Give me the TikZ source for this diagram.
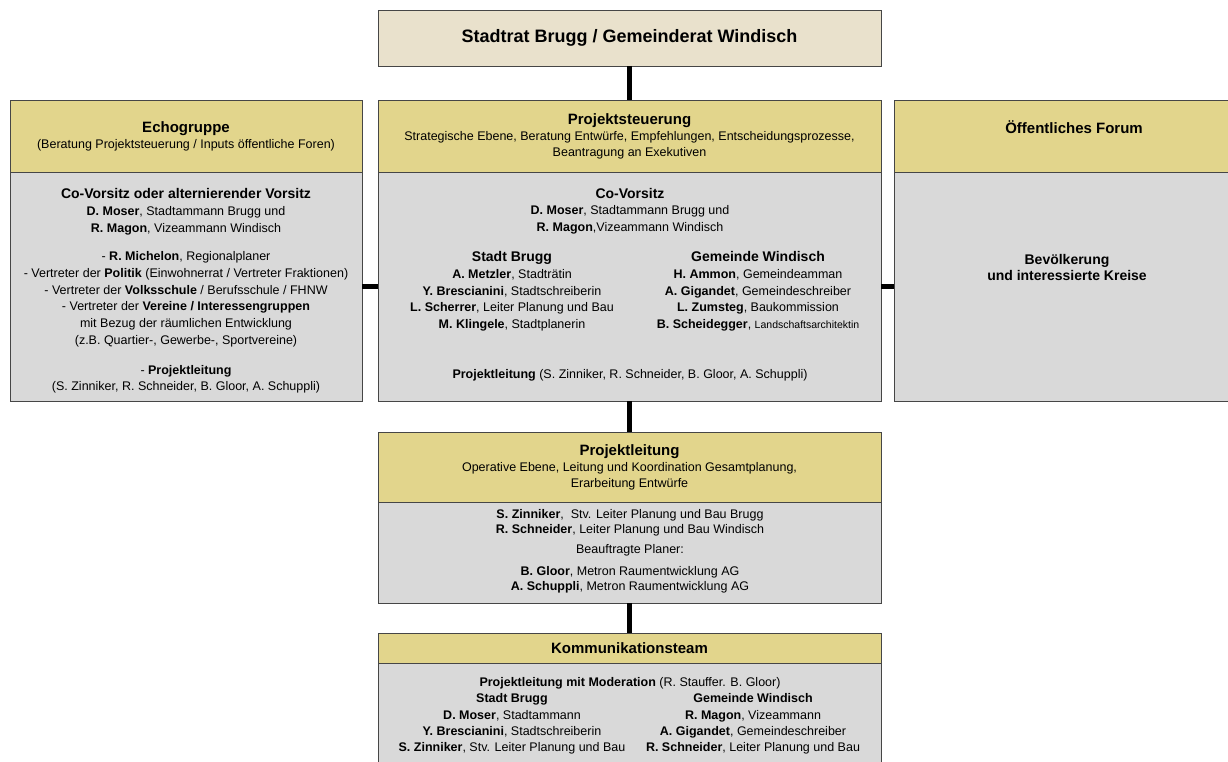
\documentclass[tikz,border=0pt]{standalone}
\usepackage{fontspec}
\setmainfont{Liberation Sans}
\usetikzlibrary{positioning}
\definecolor{kopfgelb}{RGB}{226,213,140}
\definecolor{rumpfgrau}{RGB}{217,217,217}
\definecolor{ratbeige}{RGB}{233,225,204}
\definecolor{rahmen}{RGB}{70,70,70}
\newcommand{\kopftitel}[1]{{\fontsize{15}{16}\selectfont\textbf{#1}}}
\newcommand{\unterkopf}[1]{{\fontsize{14}{16.7}\selectfont\textbf{#1}}}

\begin{document}
\begin{tikzpicture}[x=1pt, y=-1pt,
    box/.style={draw=rahmen, line width=0.9pt, inner sep=0pt, outer sep=0pt, align=center},
    kopf/.style={box, fill=kopfgelb, font=\fontsize{12.5}{16}\selectfont},
    rumpf/.style={box, fill=rumpfgrau},
    txt/.style={inner sep=0pt, align=center, font=\fontsize{12.5}{16.7}\selectfont},
    link/.style={line width=4.5pt}]
  \clip (0,0) rectangle (1228,762);
  \fill[white] (0,0) rectangle (1228,762);

  % Stadtrat / Gemeinderat
  \node[box, fill=ratbeige, minimum width=503pt, minimum height=56pt, font=\fontsize{18}{20}\selectfont\bfseries] (rat) at (629.5,38) {Stadtrat Brugg / Gemeinderat Windisch};

  % three panels side by side
  \node[kopf, minimum width=352pt, minimum height=72pt] (echokopf) at (186,136) {\kopftitel{Echogruppe}\\(Beratung Projektsteuerung / Inputs öffentliche Foren)};
  \node[rumpf, below=0pt of echokopf, minimum width=352pt, minimum height=229pt] (echobody) {};
  \node[kopf, minimum width=503pt, minimum height=72pt] (steerkopf) at (629.5,136) {\kopftitel{Projektsteuerung}\\Strategische Ebene, Beratung Entwürfe, Empfehlungen, Entscheidungsprozesse,\\Beantragung an Exekutiven};
  \node[rumpf, below=0pt of steerkopf, minimum width=503pt, minimum height=229pt] (steerbody) {};
  \node[kopf, minimum width=360pt, minimum height=72pt] (forumkopf) at (1074,136) {\kopftitel{Öffentliches Forum}\\[2pt]~};
  \node[rumpf, below=0pt of forumkopf, minimum width=360pt, minimum height=229pt] (forumbody) {};

  \node[txt] (echotext) at (186,291) {\unterkopf{Co-Vorsitz oder alternierender Vorsitz}\\
    \textbf{D. Moser}, Stadtammann Brugg und\\
    \textbf{R. Magon}, Vizeammann Windisch\\[12pt]
    - \textbf{R. Michelon}, Regionalplaner\\
    - Vertreter der \textbf{Politik} (Einwohnerrat / Vertreter Fraktionen)\\
    - Vertreter der \textbf{Volksschule} / Berufsschule / FHNW\\
    - Vertreter der \textbf{Vereine / Interessengruppen}\\
    mit Bezug der räumlichen Entwicklung\\
    (z.B. Quartier-, Gewerbe-, Sportvereine)\\[13pt]
    - \textbf{Projektleitung}\\
    (S. Zinniker, R. Schneider, B. Gloor, A. Schuppli)};

  \node[txt] (steerco) at (630,211) {\unterkopf{Co-Vorsitz}\\
    \textbf{D. Moser}, Stadtammann Brugg und\\
    \textbf{R. Magon},Vizeammann Windisch};
  \node[txt] (steerbrugg) at (512,291.5) {\unterkopf{Stadt Brugg}\\
    \textbf{A. Metzler}, Stadträtin\\
    \textbf{Y. Brescianini}, Stadtschreiberin\\
    \textbf{L. Scherrer}, Leiter Planung und Bau\\
    \textbf{M. Klingele}, Stadtplanerin};
  \node[txt] (steerwindisch) at (758,291.5) {\unterkopf{Gemeinde Windisch}\\
    \textbf{H. Ammon}, Gemeindeamman\\
    \textbf{A. Gigandet}, Gemeindeschreiber\\
    \textbf{L. Zumsteg}, Baukommission\\
    \textbf{B. Scheidegger}, {\fontsize{10.5}{12}\selectfont Landschaftsarchitektin}};
  \node[txt] (steerpl) at (630,375) {\textbf{Projektleitung} (S. Zinniker, R. Schneider, B. Gloor, A. Schuppli)};

  \node[txt] (forumtext) at (1067,267.5) {\unterkopf{Bevölkerung}\\\unterkopf{und interessierte Kreise}};

  % Projektleitung
  \node[kopf, minimum width=503pt, minimum height=70pt] (leitkopf) at (629.5,467) {\kopftitel{Projektleitung}\\Operative Ebene, Leitung und Koordination Gesamtplanung,\\Erarbeitung Entwürfe};
  \node[rumpf, below=0pt of leitkopf, minimum width=503pt, minimum height=101pt] (leitbody) {};
  \node[txt, font=\fontsize{12.5}{15}\selectfont] (leittext) at (630,551) {\textbf{S. Zinniker}, \ Stv. Leiter Planung und Bau Brugg\\
    \textbf{R. Schneider}, Leiter Planung und Bau Windisch\\[5pt]
    Beauftragte Planer:\\[7pt]
    \textbf{B. Gloor}, Metron Raumentwicklung AG\\
    \textbf{A. Schuppli}, Metron Raumentwicklung AG};

  % Kommunikationsteam
  \node[kopf, minimum width=503pt, minimum height=30pt] (kommkopf) at (629.5,648) {\kopftitel{Kommunikationsteam}};
  \node[rumpf, below=0pt of kommkopf, minimum width=503pt, minimum height=120pt] (kommbody) {};
  \node[txt] (kommpl) at (630,683) {\textbf{Projektleitung mit Moderation} (R. Stauffer. B. Gloor)};
  \node[txt, font=\fontsize{12.5}{16.2}\selectfont] (kommbrugg) at (512,724) {\textbf{Stadt Brugg}\\
    \textbf{D. Moser}, Stadtammann\\
    \textbf{Y. Brescianini}, Stadtschreiberin\\
    \textbf{S. Zinniker}, Stv. Leiter Planung und Bau};
  \node[txt, font=\fontsize{12.5}{16.2}\selectfont] (kommwindisch) at (753,724) {\textbf{Gemeinde Windisch}\\
    \textbf{R. Magon}, Vizeammann\\
    \textbf{A. Gigandet}, Gemeindeschreiber\\
    \textbf{R. Schneider}, Leiter Planung und Bau};

  % connections
  \draw[link] (rat) -- (steerkopf);
  \draw[link] (echobody) -- (steerbody);
  \draw[link] (steerbody) -- (forumbody);
  \draw[link] (steerbody) -- (leitkopf);
  \draw[link] (leitbody) -- (kommkopf);
\end{tikzpicture}
\end{document}
